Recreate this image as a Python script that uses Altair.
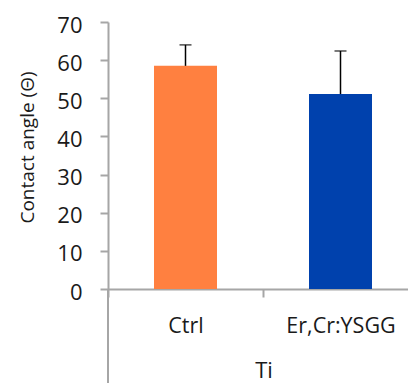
import altair as alt
import pandas as pd

groups = ["Ctrl", "Er,Cr:YSGG"]
means = [58.5, 51.1]
uppers = [64.0, 62.4]
colors = ["#FF8040", "#0041AD"]
y_ticks = [0, 10, 20, 30, 40, 50, 60, 70]

df = pd.DataFrame({"group": groups, "mean": means, "upper": uppers, "color": colors})

FONT = "Open Sans"
AX = "#A6A6A6"

x_axis = alt.Axis(
    title="Ti",
    labelAngle=0,
    labelFontSize=21.5,
    labelFont=FONT,
    labelColor="#1a1a1a",
    labelPadding=18,
    labelOverlap=False,
    tickBand="extent",
    tickSize=8,
    tickColor=AX,
    tickWidth=2,
    domainColor=AX,
    domainWidth=2,
    titleFont=FONT,
    titleFontSize=22,
    titleFontWeight="normal",
    titleColor="#1a1a1a",
    titleX=155.5,
    titleY=88,
    titleBaseline="alphabetic",
)
x_scale = alt.Scale(range=[0, 310], paddingInner=0, paddingOuter=0)

y_scale = alt.Scale(domain=[0, 70], nice=False)
y_axis = alt.Axis(
    title="Contact angle (Θ)",
    values=y_ticks,
    grid=False,
    labelFontSize=22,
    labelFont=FONT,
    labelColor="#1a1a1a",
    labelPadding=18,
    labelOffset=3,
    labelOverlap=False,
    labelFlush=False,
    tickSize=8,
    tickColor=AX,
    tickWidth=2,
    domainColor=AX,
    domainWidth=2,
    titleFont=FONT,
    titleFontSize=19,
    titleFontWeight="normal",
    titleColor="#1a1a1a",
    titleX=-81,
    titleY=125,
    titleBaseline="middle",
    titleAlign="center",
)

base = alt.Chart(df)

X = alt.X("group:N", sort=groups, scale=x_scale, axis=x_axis)

bars = base.mark_bar(size=63).encode(
    x=X,
    y=alt.Y("mean:Q", scale=y_scale, axis=y_axis),
    color=alt.Color("color:N", scale=None),
)

rules = base.mark_rule(color="black", strokeWidth=1.5).encode(
    x=X,
    y=alt.Y("mean:Q", scale=y_scale, axis=y_axis),
    y2="upper:Q",
)

caps = base.mark_tick(color="black", thickness=1.5, size=12).encode(
    x=X,
    y=alt.Y("upper:Q", scale=y_scale, axis=y_axis),
)

# extension of the vertical axis line below the category axis (Excel multi-level axis)
ext = alt.Chart(pd.DataFrame({"a": [0]})).mark_rule(color=AX, strokeWidth=2).encode(
    x=alt.value(0), y=alt.value(267), y2=alt.value(361)
)

chart = (
    alt.layer(bars, rules, caps, ext)
    .properties(
        width=300,
        height=267,
        autosize=alt.AutoSizeParams(type="none"),
        padding={"left": 108, "top": 22, "right": 0, "bottom": 94},
        background="white",
    )
    .configure_view(stroke=None)
)

chart.save("out.html", embed_options={"renderer": "svg", "actions": False})
